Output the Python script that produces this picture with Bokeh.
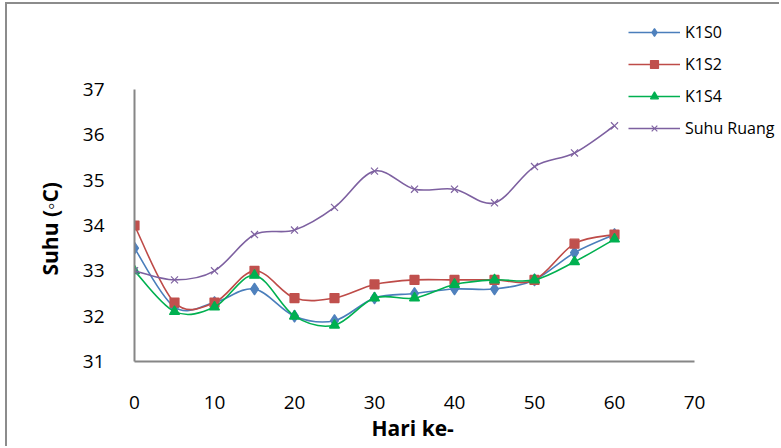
from bokeh.plotting import figure
from bokeh.models import Range1d, Legend, LegendItem, ColumnDataSource, FixedTicker, Title
from bokeh.embed import file_html
from bokeh.resources import INLINE

days = [0, 5, 10, 15, 20, 25, 30, 35, 40, 45, 50, 55, 60]
k1s0 = [33.5, 32.2, 32.3, 32.6, 32.0, 31.9, 32.4, 32.5, 32.6, 32.6, 32.8, 33.4, 33.8]
k1s2 = [34.0, 32.3, 32.3, 33.0, 32.4, 32.4, 32.7, 32.8, 32.8, 32.8, 32.8, 33.6, 33.8]
k1s4 = [33.0, 32.1, 32.2, 32.9, 32.0, 31.8, 32.4, 32.4, 32.7, 32.8, 32.8, 33.2, 33.7]
suhu_ruang = [33.0, 32.8, 33.0, 33.8, 33.9, 34.4, 35.2, 34.8, 34.8, 34.5, 35.3, 35.6, 36.2]
series_names = ["K1S0", "K1S2", "K1S4", "Suhu Ruang"]
x_ticks = [0, 10, 20, 30, 40, 50, 60, 70]
y_ticks = [31, 32, 33, 34, 35, 36, 37]
x_title = "Hari ke-"
y_title = "Suhu (\u25e6C)"

FONT = "Open Sans"

# layout (screen pixels of the page)
OX, OY = 7, 4              # canvas origin inside the bordered box
W, H = 781 - OX, 448 - OY  # canvas size
AX_L, AX_R = 134, 694      # screen x of 0 and 70
AX_T, AX_B = 89, 361       # screen y of 37 and 31
x_scale = (AX_R - AX_L) / 70.0
y_scale = (AX_B - AX_T) / 6.0
frame_left = AX_L - OX
frame_bottom = AX_B - OY
x_end = (W - frame_left) / x_scale
y_top = 31 + frame_bottom / y_scale

p = figure(width=W, height=H, output_backend="svg", toolbar_location=None,
           x_range=Range1d(0, x_end), y_range=Range1d(31, y_top),
           min_border_left=frame_left, min_border_right=0, min_border_top=0,
           min_border_bottom=H - frame_bottom, margin=(2, 0, 0, 5))
p.styles = {"border-left": "2px solid #8C8C8C", "border-top": "2px solid #8C8C8C"}
p.outline_line_color = None
p.xgrid.visible = False
p.ygrid.visible = False

for ax in (p.xaxis[0], p.yaxis[0]):
    ax.axis_line_color = "#868686"
    ax.axis_line_width = 2
    ax.major_tick_line_color = None
    ax.minor_tick_line_color = None
    ax.major_label_text_font = FONT
    ax.major_label_text_font_size = "19px"
    ax.major_label_text_color = "#000000"

p.xaxis.bounds = (0, 70)
p.yaxis.bounds = (31, 37)
p.xaxis.ticker = FixedTicker(ticks=x_ticks)
p.yaxis.ticker = FixedTicker(ticks=y_ticks)
p.xaxis.major_label_standoff = 28
p.yaxis.major_label_standoff = 24

xt = Title(text=x_title, align="left", offset=(414 - 43) - AX_L, standoff=0,
           text_font=FONT, text_font_style="bold", text_font_size="21px",
           text_color="#000000")
p.add_layout(xt, "below")
yt = Title(text=y_title, align="left", offset=AX_B - (225 + 50), standoff=32,
           text_font=FONT, text_font_style="bold", text_font_size="21px",
           text_color="#000000")
p.add_layout(yt, "left")


def bezier_source(xs, ys):
    n = len(xs)
    d = dict(x0=[], y0=[], x1=[], y1=[], cx0=[], cy0=[], cx1=[], cy1=[])
    for i in range(n - 1):
        xm, ym = (xs[i - 1], ys[i - 1]) if i > 0 else (xs[i], ys[i])
        xp, yp = (xs[i + 2], ys[i + 2]) if i + 2 < n else (xs[i + 1], ys[i + 1])
        d["x0"].append(xs[i]); d["y0"].append(ys[i])
        d["x1"].append(xs[i + 1]); d["y1"].append(ys[i + 1])
        d["cx0"].append(xs[i] + (xs[i + 1] - xm) / 6)
        d["cy0"].append(ys[i] + (ys[i + 1] - ym) / 6)
        d["cx1"].append(xs[i + 1] - (xp - xs[i]) / 6)
        d["cy1"].append(ys[i + 1] - (yp - ys[i]) / 6)
    return ColumnDataSource(d)


styles = [
    (k1s0, "#4A7EBB", "#4F81BD", "diamond", 12),
    (k1s2, "#BE4B48", "#C0504D", "square", 9),
    (k1s4, "#00B050", "#00B050", "triangle", 10),
    (suhu_ruang, "#7D60A0", "#8064A2", "x", 10),
]

items = []
for name, (vals, lc, mc, marker, size) in zip(series_names, styles):
    src = bezier_source(days, vals)
    r1 = p.bezier(x0="x0", y0="y0", x1="x1", y1="y1", cx0="cx0", cy0="cy0",
                  cx1="cx1", cy1="cy1", source=src, line_color=lc, line_width=1.6)
    r2 = p.scatter(days, vals, marker=marker, size=size, fill_color=mc,
                   line_color=mc, line_width=1.2)
    items.append(LegendItem(label=name, renderers=[r1, r2]))

leg_left, leg_top = 628, 29
leg_h = 4 * 20 + 3 * 10
legend = Legend(items=items,
                location=(leg_left - AX_L, frame_bottom - (leg_top - OY + leg_h)),
                orientation="vertical",
                border_line_color=None, background_fill_alpha=0,
                padding=0, margin=0, spacing=10,
                glyph_width=52, glyph_height=20, label_height=20,
                label_standoff=5, label_text_font=FONT,
                label_text_font_size="16px", label_text_color="#000000")
p.add_layout(legend, "center")

open("out.html", "w").write(file_html(p, INLINE))
